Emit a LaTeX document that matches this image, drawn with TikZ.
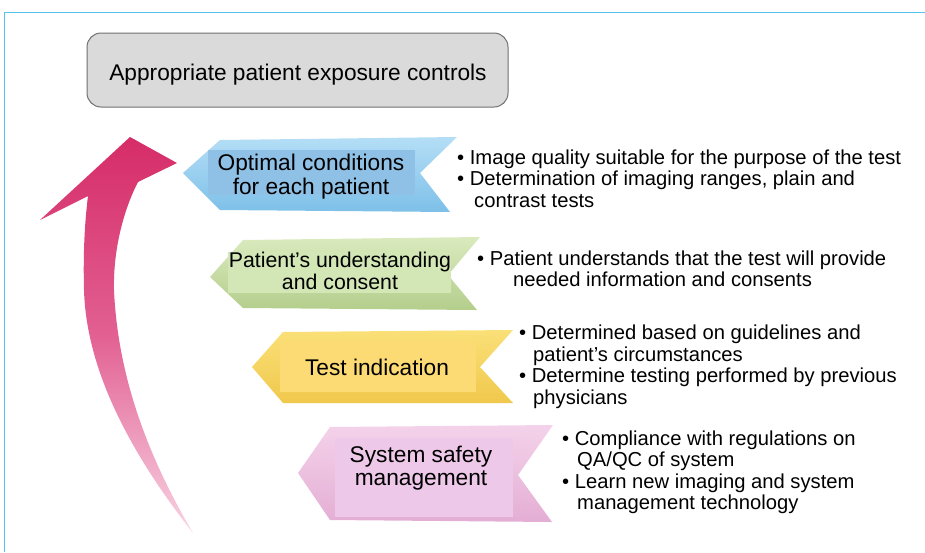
\documentclass[tikz,border=0pt]{standalone}
\usepackage{fontspec}
\setmainfont{Liberation Sans}
\definecolor{frameblue}{RGB}{88,194,238}
\definecolor{goalgray}{RGB}{218,218,218}
\definecolor{goaledge}{RGB}{112,112,112}
\definecolor{arrowtop}{RGB}{214,44,104}
\definecolor{arrowmid}{RGB}{226,96,146}
\definecolor{arrowtail}{RGB}{248,212,228}
\definecolor{blueTop}{RGB}{180,222,246}
\definecolor{blueBot}{RGB}{126,192,232}
\definecolor{blueIn}{RGB}{143,193,230}
\definecolor{greenTop}{RGB}{218,234,190}
\definecolor{greenBot}{RGB}{180,206,140}
\definecolor{greenIn}{RGB}{210,230,182}
\definecolor{yellowTop}{RGB}{250,224,120}
\definecolor{yellowBot}{RGB}{240,200,76}
\definecolor{yellowIn}{RGB}{252,218,116}
\definecolor{pinkTop}{RGB}{244,210,234}
\definecolor{pinkBot}{RGB}{228,174,212}
\definecolor{pinkIn}{RGB}{238,200,232}
\begin{document}
\begin{tikzpicture}[x=1pt,y=-1pt,
  frameline/.style={draw=frameblue, line width=1.5pt},
  goalbox/.style={draw=goaledge, fill=goalgray, rounded corners=14pt, line width=1pt},
  ribbonlabel/.style={align=center, inner sep=0pt, anchor=base, font=\fontsize{22.7}{24}\selectfont},
  point/.style={anchor=base west, inner sep=0pt, font=\fontsize{20.2}{21.5}\selectfont}
]
\useasboundingbox (0,0) rectangle (925,552);

% frame lines along the top and left edges
\draw[frameline] (4.5,552) -- (4.5,12.5) -- (925,12.5);

% goal box at the top
\draw[goalbox] (87,33) rectangle (508,107);
\node[inner sep=0pt, anchor=base, font=\fontsize{22.7}{24}\selectfont] (goal) at (298,80) {Appropriate patient exposure controls};

% rising curved arrow
\shade[top color=arrowtop, bottom color=arrowtail, middle color=arrowmid]
  (193,533) .. controls (120,440) and (86,360) .. (84,290)
  .. controls (83,250) and (85,220) .. (88,196)
  -- (40,220) -- (130,137) -- (177,163) -- (138,182)
  .. controls (126,205) and (113,245) .. (114,290)
  .. controls (118,380) and (150,460) .. (193,533) -- cycle;

% ribbon 1: optimal conditions (blue); the base anchor sits on the last line
\shade[top color=blueTop, bottom color=blueBot]
  (183,173) -- (220,140) -- (457,137) -- (420,173) -- (450,212) -- (220,210) -- cycle;
\fill[blueIn] (208,150) rectangle (415,195);
\node[ribbonlabel] (opt) at (311,194) {Optimal conditions\\for each patient};

% ribbon 2: understanding and consent (green)
\shade[top color=greenTop, bottom color=greenBot]
  (210,277) -- (243,240) -- (480,237) -- (448,275) -- (477,310) -- (243,308) -- cycle;
\fill[greenIn] (228,252) rectangle (451,293);
\node[ribbonlabel, font=\fontsize{21.3}{22}\selectfont] (consent) at (340,289) {Patient’s understanding\\and consent};

% ribbon 3: test indication (yellow)
\shade[top color=yellowTop, bottom color=yellowBot]
  (252,367) -- (283,332) -- (513,330) -- (480,367) -- (513,403) -- (283,403) -- cycle;
\fill[yellowIn] (280,342) rectangle (476,392);
\node[ribbonlabel] (indication) at (377,375) {Test indication};

% ribbon 4: system safety (pink)
\shade[top color=pinkTop, bottom color=pinkBot]
  (298,473) -- (330,427) -- (553,425) -- (518,475) -- (552,522) -- (330,520) -- cycle;
\fill[pinkIn] (335,438) rectangle (513,517);
\node[ribbonlabel, font=\fontsize{22.7}{23}\selectfont] (safety) at (421,485) {System safety\\management};

% notes beside each ribbon
\node[point] (o1) at (457,164.5) {• Image quality suitable for the purpose of the test};
\node[point] (o2) at (457,185.5) {• Determination of imaging ranges, plain and};
\node[point] (o3) at (474,207) {contrast tests};

\node[point] (c1) at (477,265) {• Patient understands that the test will provide};
\node[point] (c2) at (513,286.5) {needed information and consents};

\node[point] (t1) at (519,339.5) {• Determined based on guidelines and};
\node[point] (t2) at (533,361) {patient’s circumstances};
\node[point] (t3) at (519,382.5) {• Determine testing performed by previous};
\node[point] (t4) at (533,404) {physicians};

\node[point] (s1) at (562,445) {• Compliance with regulations on};
\node[point] (s2) at (577,466.5) {QA/QC of system};
\node[point] (s3) at (562,488) {• Learn new imaging and system};
\node[point] (s4) at (577,509.5) {management technology};
\end{tikzpicture}
\end{document}
